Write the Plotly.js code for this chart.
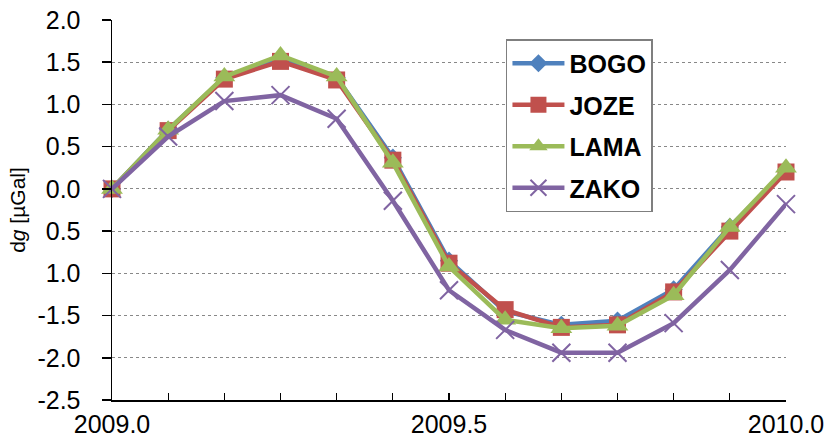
<!DOCTYPE html>
<html>
<head>
<meta charset="utf-8">
<script src="https://cdn.plot.ly/plotly-3.0.1.min.js"></script>
<style>html,body{margin:0;padding:0;background:#fff;}#chart{width:832px;height:437px;}</style>
</head>
<body>
<div id="chart"></div>
<script>
var years = [2009.0, 2009.0833, 2009.1667, 2009.25, 2009.3333, 2009.4167, 2009.5, 2009.5833, 2009.6667, 2009.75, 2009.8333, 2009.9167, 2010.0];
var bogo = [0, 0.70, 1.32, 1.55, 1.32, 0.37, -0.85, -1.45, -1.61, -1.56, -1.19, -0.45, 0.22];
var joze = [0, 0.69, 1.30, 1.51, 1.29, 0.34, -0.88, -1.43, -1.64, -1.61, -1.22, -0.50, 0.20];
var lama = [0, 0.70, 1.33, 1.58, 1.33, 0.31, -0.92, -1.55, -1.65, -1.62, -1.26, -0.45, 0.25];
var zako = [0, 0.62, 1.04, 1.11, 0.83, -0.14, -1.20, -1.67, -1.94, -1.94, -1.59, -0.96, -0.18];
var seriesNames = ['BOGO', 'JOZE', 'LAMA', 'ZAKO'];
var yTickVals = [2.0, 1.5, 1.0, 0.5, 0.0, -0.5, -1.0, -1.5, -2.0, -2.5];
var yTickText = ['2.0', '1.5', '1.0', '0.5', '0.0', '0.5', '1.0', '-1.5', '-2.0', '-2.5'];
var xTickVals = [2009.0, 2009.5, 2010.0];
var xTickText = ['2009.0', '2009.5', '2010.0'];

var colors = ['#4F81BD', '#C0504D', '#9BBB59', '#8064A2'];
var symbols = ['diamond', 'square', 'triangle-up', 'x-thin'];
var sizes = [14, 17, 19, 18];
var data = [bogo, joze, lama, zako];

var traces = data.map(function (ys, i) {
  return {
    x: years, y: ys, name: seriesNames[i], type: 'scatter', mode: 'lines+markers',
    legendgroup: 'g' + i,
    line: {color: colors[i], width: 4.5},
    marker: {symbol: symbols[i], size: sizes[i], color: colors[i],
             line: {color: colors[i], width: i === 3 ? 2 : 0}},
    cliponaxis: false
  };
});

var layout = {
  width: 832, height: 437,
  margin: {l: 112, r: 46, t: 20, b: 37, autoexpand: false},
  paper_bgcolor: '#fff', plot_bgcolor: '#fff',
  font: {family: 'Liberation Sans, Arial, sans-serif', color: '#000', size: 25},
  showlegend: true,
  legend: {
    x: 0.5845, y: 0.95, xanchor: 'left', yanchor: 'top',
    bordercolor: '#7f7f7f', borderwidth: 1.5, bgcolor: '#fff',
    font: {size: 25, family: 'Liberation Sans, Arial, sans-serif', weight: 'bold'},
    traceorder: 'grouped', tracegroupgap: 6, itemwidth: 52
  },
  xaxis: {
    range: [2009.0, 2010.0], tickmode: 'array', tickvals: xTickVals, ticktext: xTickText,
    ticks: 'inside', ticklen: 7, tickwidth: 1.2, tickcolor: '#000',
    minor: {dtick: 1/12, tick0: 2009.0, ticks: 'inside', ticklen: 7, tickwidth: 1.2, tickcolor: '#000', showgrid: false},
    showline: true, linecolor: '#000', linewidth: 1.5, showgrid: false, zeroline: false,
    tickfont: {size: 25}, ticklabelstandoff: 1, automargin: false
  },
  yaxis: {
    range: [-2.5, 2.0], tickmode: 'array', tickvals: yTickVals, ticktext: yTickText,
    ticks: 'outside', ticklen: 9, tickwidth: 1.5, tickcolor: '#000',
    showline: true, linecolor: '#000', linewidth: 1.5,
    showgrid: true, gridcolor: '#888', griddash: 'dot', gridwidth: 1.2, zeroline: false,
    tickfont: {size: 25}, ticklabelstandoff: 16, automargin: false,
    title: {text: 'd<i>g</i> [µGal]', font: {size: 21}, standoff: 6}
  }
};

Plotly.newPlot('chart', traces, layout, {displayModeBar: false, staticPlot: true});
</script>
</body>
</html>
